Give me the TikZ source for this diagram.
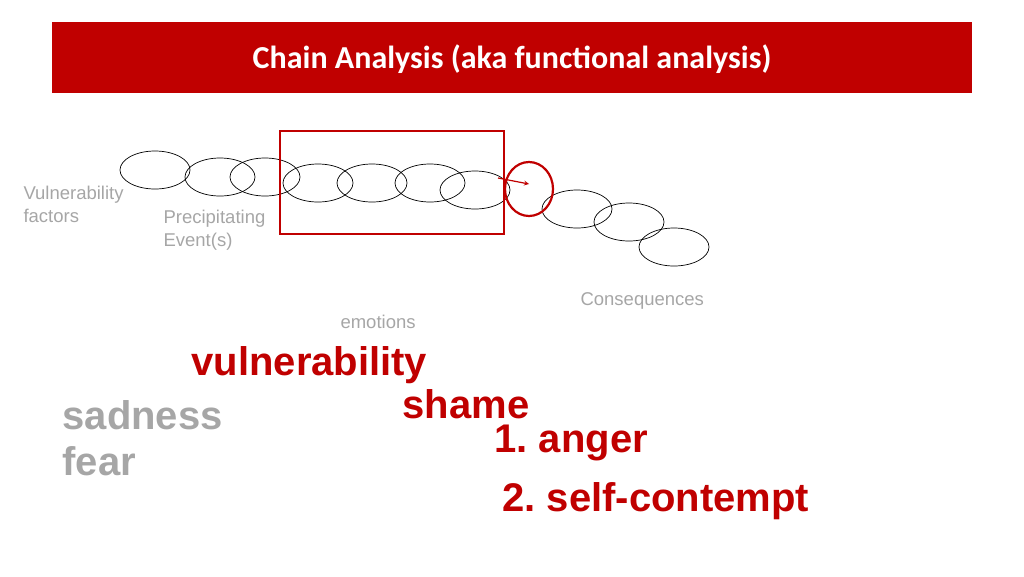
\documentclass[tikz,border=0pt]{standalone}
\usepackage{fontspec}
\setmainfont{Liberation Sans}
\newfontfamily\myhdrfont{Carlito}
\definecolor{hdr}{HTML}{C00000}
\definecolor{gr}{HTML}{A6A6A6}
\begin{document}
\begin{tikzpicture}[x=1pt,y=-1pt,
 lk/.style={draw=black,line width=0.7pt},
 sm/.style={text=gr,font=\fontsize{18.5}{23}\selectfont,anchor=west,align=left},
 big/.style={font=\fontsize{40}{44}\selectfont\bfseries,anchor=west}]
\useasboundingbox (0,0) rectangle (1024,576);
\fill[hdr] (52,22) rectangle (972,93);
\node[text=white,font=\myhdrfont\fontsize{32}{36}\selectfont\bfseries] (title) at (512,59) {Chain Analysis (aka functional analysis)};
\foreach \n/\x/\y in {1/155/170,2/220/177,3/265/177,4/318/183,5/372/183,6/430/183,7/475/190,8/577/209,9/629/222,10/674/247}
  \draw[lk] (\x,\y) ellipse [x radius=35, y radius=19];
\draw[hdr,line width=1.6pt] (280,131) rectangle (504,234);
\draw[hdr,line width=2.2pt] (529,189) ellipse [x radius=24, y radius=27];
\coordinate (a1) at (498,178); \coordinate (a2) at (529,184);
\draw[hdr,line width=1.2pt,-stealth] (a1) -- (a2);
\node[sm] (vf) at (20,204) {Vulnerability\\factors};
\node[sm] (pe) at (160,230) {Precipitating\\Event(s)};
\node[sm] (co) at (577,301) {Consequences};
\node[sm] (em) at (337,322) {emotions};
\node[big,text=hdr] (v) at (188,365) {vulnerability};
\node[big,text=gr] (s) at (59,415) {sadness};
\node[big,text=gr] (f) at (59,461) {fear};
\node[big,text=hdr] (sh) at (399,404) {shame};
\node[big,text=hdr] (an) at (491,443) {1.~anger};
\node[big,text=hdr] (sc) at (499,501) {2.~self-contempt};
\end{tikzpicture}
\end{document}
